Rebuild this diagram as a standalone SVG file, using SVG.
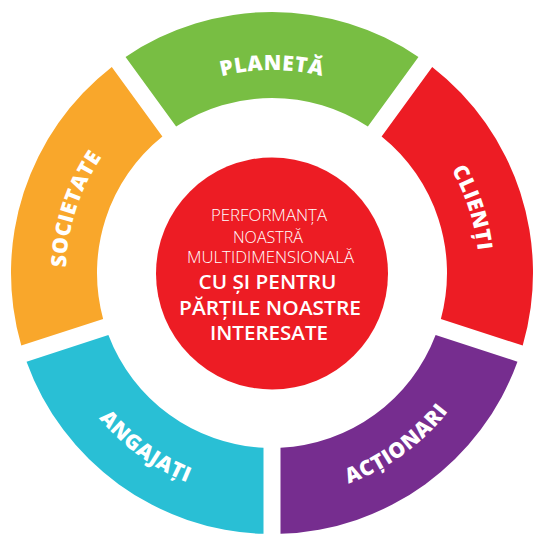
<svg xmlns="http://www.w3.org/2000/svg" width="533" height="534" viewBox="0 0 533 534">
<style>
.lbl{font-family:"Open Sans","Noto Sans",sans-serif;font-weight:800;font-size:21px;fill:#fff;letter-spacing:0.6px}
.lt{font-family:"Open Sans","Noto Sans",sans-serif;font-weight:300;font-size:16.5px;fill:#fff;text-anchor:middle}
.bd{font-family:"Open Sans","Noto Sans",sans-serif;font-weight:600;font-size:20px;fill:#fff;text-anchor:middle}
</style>
<defs>
<path id="pPlaneta" d="M116.49 142.51 A203 203 0 0 1 427.51 142.51"/>
<path id="pSocietate" d="M97.30 382.16 A206 206 0 0 1 194.83 82.00"/>
<path id="pClienti" d="M349.54 81.07 A207 207 0 0 1 447.55 382.69"/>
<path id="pAngajati" d="M46.55 288.77 A226 226 0 0 0 326.67 492.29"/>
<path id="pActionari" d="M217.81 490.35 A224 224 0 0 0 495.45 288.63"/>
</defs>
<rect width="533" height="534" fill="#fff"/>
<g id="planeta">
<path fill="#78BE43" d="M125.55 56.96 A261 261 0 0 1 418.45 56.96 L367.86 126.59 A175 175 0 0 0 176.14 126.59 Z"/>
<text class="lbl"><textPath href="#pPlaneta" startOffset="50%" text-anchor="middle">PLANETĂ</textPath></text>
</g>
<g id="clienti">
<path fill="#ED1C24" d="M432.21 66.96 A261 261 0 0 1 522.72 345.53 L440.87 318.93 A175 175 0 0 0 381.62 136.59 Z"/>
<text class="lbl"><textPath href="#pClienti" startOffset="50%" text-anchor="middle">CLIENȚI</textPath></text>
</g>
<g id="actionari">
<path fill="#762D8F" d="M517.46 361.69 A261 261 0 0 1 280.5 533.86 L280.5 447.79 A175 175 0 0 0 435.61 335.09 Z"/>
<text class="lbl"><textPath href="#pActionari" startOffset="50%" text-anchor="middle">ACȚIONARI</textPath></text>
</g>
<g id="angajati">
<path fill="#29BFD5" d="M263.5 533.86 A261 261 0 0 1 26.54 361.69 L108.39 335.09 A175 175 0 0 0 263.5 447.79 Z"/>
<text class="lbl"><textPath href="#pAngajati" startOffset="50%" text-anchor="middle">ANGAJAȚI</textPath></text>
</g>
<g id="societate">
<path fill="#F9A72B" d="M21.28 345.53 A261 261 0 0 1 111.79 66.96 L162.38 136.59 A175 175 0 0 0 103.13 318.93 Z"/>
<text class="lbl"><textPath href="#pSocietate" startOffset="50%" text-anchor="middle">SOCIETATE</textPath></text>
</g>
<g id="center">
<circle cx="272" cy="273.5" r="116" fill="#ED1C24"/>
<text class="lt" x="269" y="220.7" textLength="116" lengthAdjust="spacingAndGlyphs">PERFORMANȚA</text>
<text class="lt" x="268" y="242.7" textLength="70" lengthAdjust="spacingAndGlyphs">NOASTRĂ</text>
<text class="lt" x="270.5" y="262.7" textLength="167" lengthAdjust="spacingAndGlyphs">MULTIDIMENSIONALĂ</text>
<text class="bd" x="267.5" y="288.7" textLength="138" lengthAdjust="spacingAndGlyphs">CU ȘI PENTRU</text>
<text class="bd" x="270" y="314.7" textLength="182" lengthAdjust="spacingAndGlyphs">PĂRȚILE NOASTRE</text>
<text class="bd" x="269" y="339.7" textLength="118" lengthAdjust="spacingAndGlyphs">INTERESATE</text>
</g>
</svg>
